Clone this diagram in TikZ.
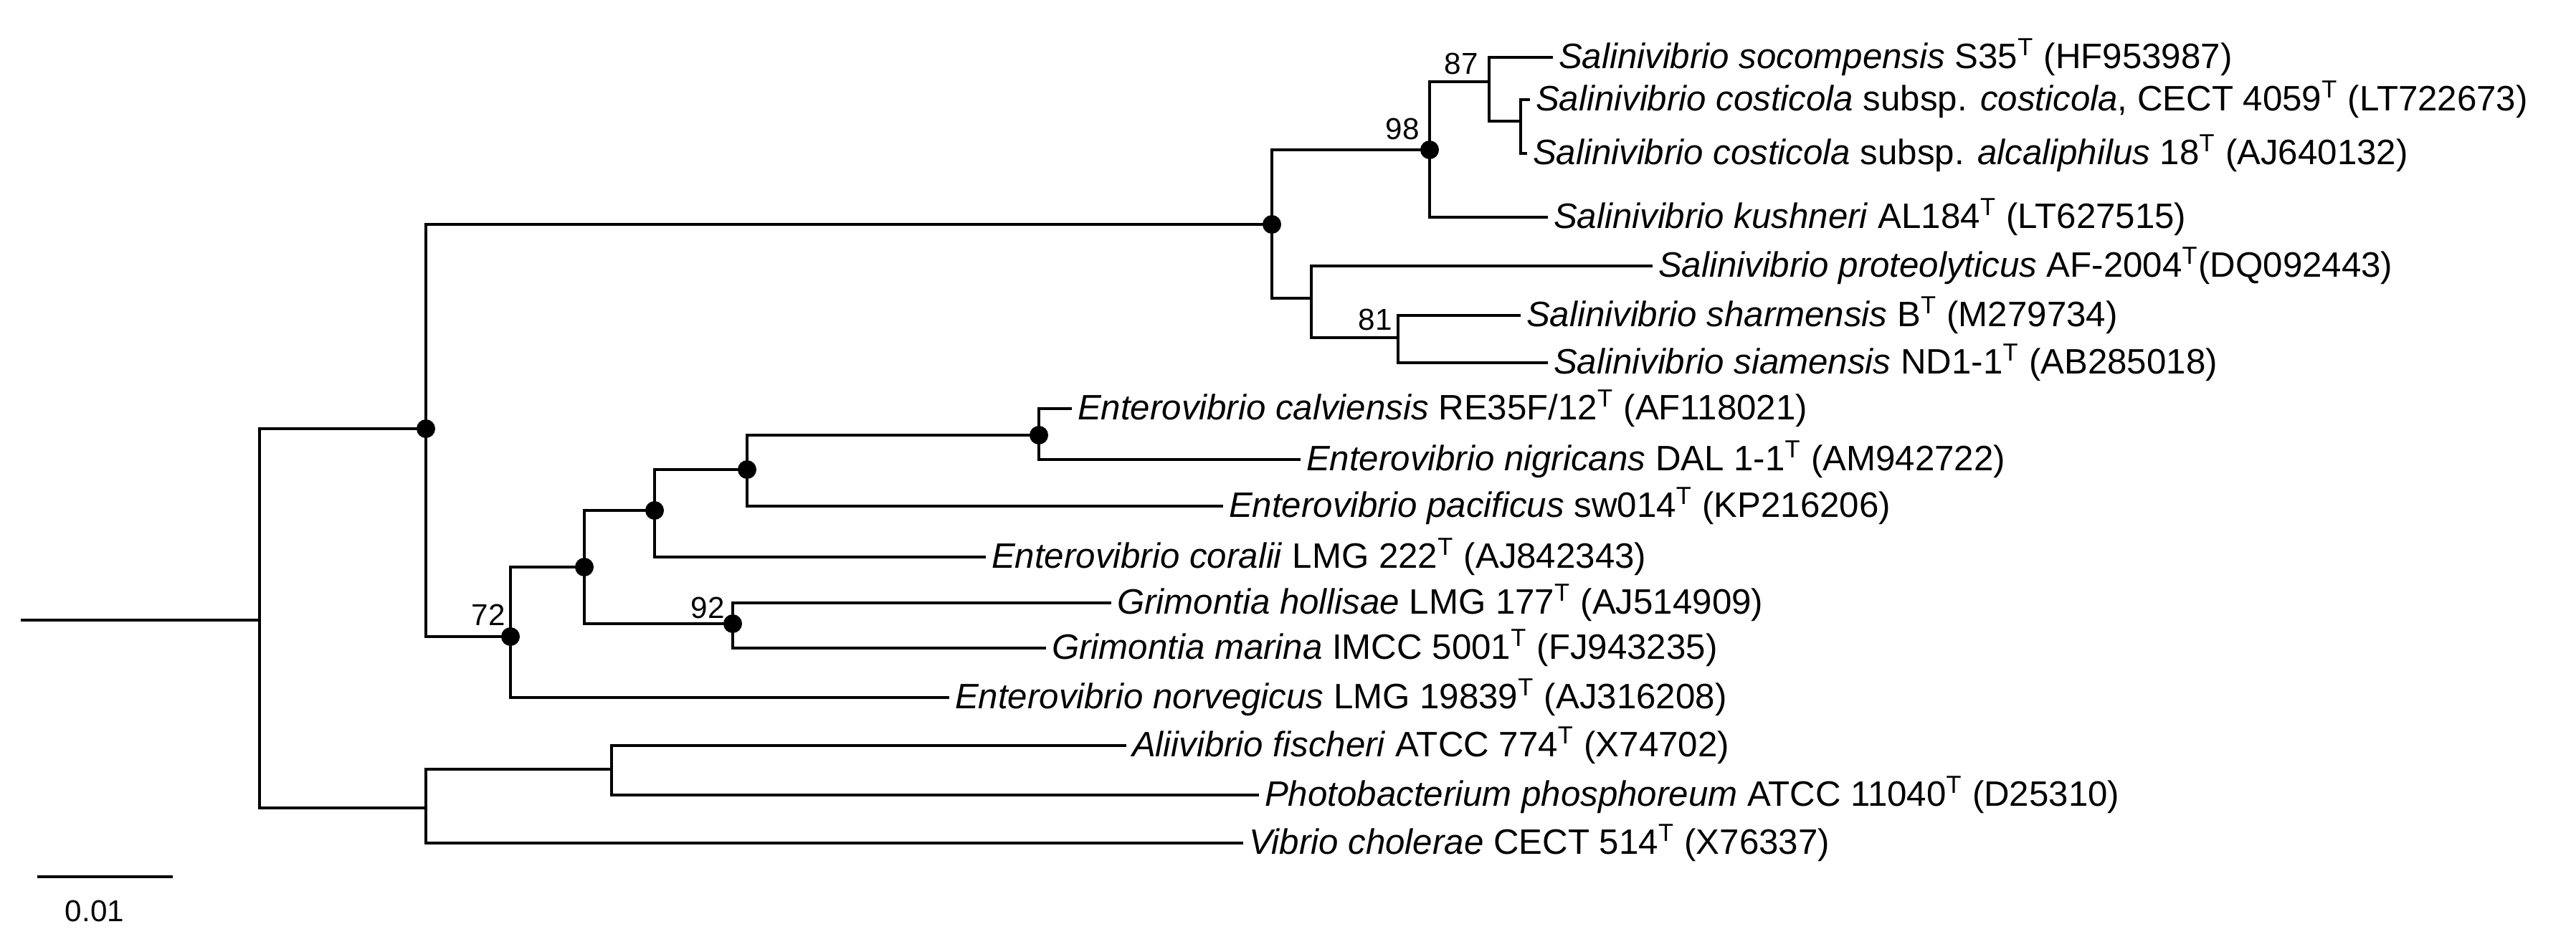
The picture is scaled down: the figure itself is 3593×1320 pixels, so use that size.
\documentclass[tikz,border=0pt]{standalone}
\usepackage{fontspec}
\setmainfont{Liberation Sans}
\begin{document}
\begin{tikzpicture}[x=0.01cm,y=-0.01cm,
  br/.style={line width=0.9pt},
  leaf/.style={anchor=west,inner xsep=0.08cm,inner ysep=0pt,outer sep=0pt,font=\fontsize{14}{16}\selectfont},
  bs/.style={font=\fontsize{12}{14}\selectfont,inner sep=0pt},
  dot/.style={fill=black,draw=none,circle,minimum size=0.26cm,inner sep=0pt}]
\useasboundingbox (0,0) rectangle (3593,1320);
% internal nodes
\coordinate (r0) at (29,865);
\coordinate (R) at (362,865);
\coordinate (A) at (594,598);
\coordinate (S) at (1774,313);
\coordinate (S98) at (1994,209);
\coordinate (S87) at (2077,114);
\coordinate (C) at (2121,169);
\coordinate (L) at (1829,416);
\coordinate (N81) at (1950,471);
\coordinate (N72) at (712,888);
\coordinate (NX) at (815,791);
\coordinate (NY) at (913,712);
\coordinate (NZ) at (1042,655);
\coordinate (NW) at (1449,607);
\coordinate (N92) at (1022,870);
\coordinate (B) at (594,1127);
\coordinate (F) at (853,1073);
% leaves
\node[leaf] (l1) at (2166,80) {\textit{Salinivibrio socompensis} S35\textsuperscript{T} (HF953987)};
\node[leaf] (l2) at (2134,139) {\textit{Salinivibrio costicola} subsp. \textit{costicola}, CECT 4059\textsuperscript{T} (LT722673)};
\node[leaf] (l3) at (2130,214) {\textit{Salinivibrio costicola} subsp. \textit{alcaliphilus} 18\textsuperscript{T} (AJ640132)};
\node[leaf] (l4) at (2159,303) {\textit{Salinivibrio kushneri} AL184\textsuperscript{T} (LT627515)};
\node[leaf] (l5) at (2305,371) {\textit{Salinivibrio proteolyticus} AF-2004\textsuperscript{T}(DQ092443)};
\node[leaf] (l6) at (2121,440) {\textit{Salinivibrio sharmensis} B\textsuperscript{T} (M279734)};
\node[leaf] (l7) at (2159,506) {\textit{Salinivibrio siamensis} ND1-1\textsuperscript{T} (AB285018)};
\node[leaf] (l8) at (1495,570) {\textit{Enterovibrio calviensis} RE35F/12\textsuperscript{T} (AF118021)};
\node[leaf] (l9) at (1814,641) {\textit{Enterovibrio nigricans} DAL 1-1\textsuperscript{T} (AM942722)};
\node[leaf] (l10) at (1706,706) {\textit{Enterovibrio pacificus} sw014\textsuperscript{T} (KP216206)};
\node[leaf] (l11) at (1375,777) {\textit{Enterovibrio coralii} LMG 222\textsuperscript{T} (AJ842343)};
\node[leaf] (l12) at (1550,841) {\textit{Grimontia hollisae} LMG 177\textsuperscript{T} (AJ514909)};
\node[leaf] (l13) at (1459,904) {\textit{Grimontia marina} IMCC 5001\textsuperscript{T} (FJ943235)};
\node[leaf] (l14) at (1324,973) {\textit{Enterovibrio norvegicus} LMG 19839\textsuperscript{T} (AJ316208)};
\node[leaf] (l15) at (1571,1040) {\textit{Aliivibrio fischeri} ATCC 774\textsuperscript{T} (X74702)};
\node[leaf] (l16) at (1756,1109) {\textit{Photobacterium phosphoreum} ATCC 11040\textsuperscript{T} (D25310)};
\node[leaf] (l17) at (1734,1176) {\textit{Vibrio cholerae} CECT 514\textsuperscript{T} (X76337)};
% branches
\draw[br] (r0) -- (R);
\draw[br] (R) |- (A); \draw[br] (R) |- (B);
\draw[br] (A) |- (S); \draw[br] (A) |- (N72);
\draw[br] (S) |- (S98); \draw[br] (S) |- (L);
\draw[br] (S98) |- (S87); \draw[br] (S98) |- (l4.west);
\draw[br] (S87) |- (l1.west); \draw[br] (S87) |- (C);
\draw[br] (C) |- (l2.west); \draw[br] (C) |- (l3.west);
\draw[br] (L) |- (l5.west); \draw[br] (L) |- (N81);
\draw[br] (N81) |- (l6.west); \draw[br] (N81) |- (l7.west);
\draw[br] (N72) |- (NX); \draw[br] (N72) |- (l14.west);
\draw[br] (NX) |- (NY); \draw[br] (NX) |- (N92);
\draw[br] (NY) |- (NZ); \draw[br] (NY) |- (l11.west);
\draw[br] (NZ) |- (NW); \draw[br] (NZ) |- (l10.west);
\draw[br] (NW) |- (l8.west); \draw[br] (NW) |- (l9.west);
\draw[br] (N92) |- (l12.west); \draw[br] (N92) |- (l13.west);
\draw[br] (B) |- (F); \draw[br] (B) |- (l17.west);
\draw[br] (F) |- (l15.west); \draw[br] (F) |- (l16.west);
% dots
\foreach \n in {A,S,S98,N72,NX,NY,NZ,NW,N92} \node[dot] (d\n) at (\n) {};
% bootstrap
\node[bs] (b98) at (1956,180) {98};
\node[bs] (b87) at (2038,89) {87};
\node[bs] (b81) at (1918,446) {81};
\node[bs] (b72) at (681,858) {72};
\node[bs] (b92) at (987,848) {92};
% scale bar
\coordinate (sb1) at (52,1223); \coordinate (sb2) at (241,1223);
\draw[br] (sb1) -- (sb2);
\node[bs] (sbl) at (132,1271) {0.01};
\end{tikzpicture}
\end{document}
